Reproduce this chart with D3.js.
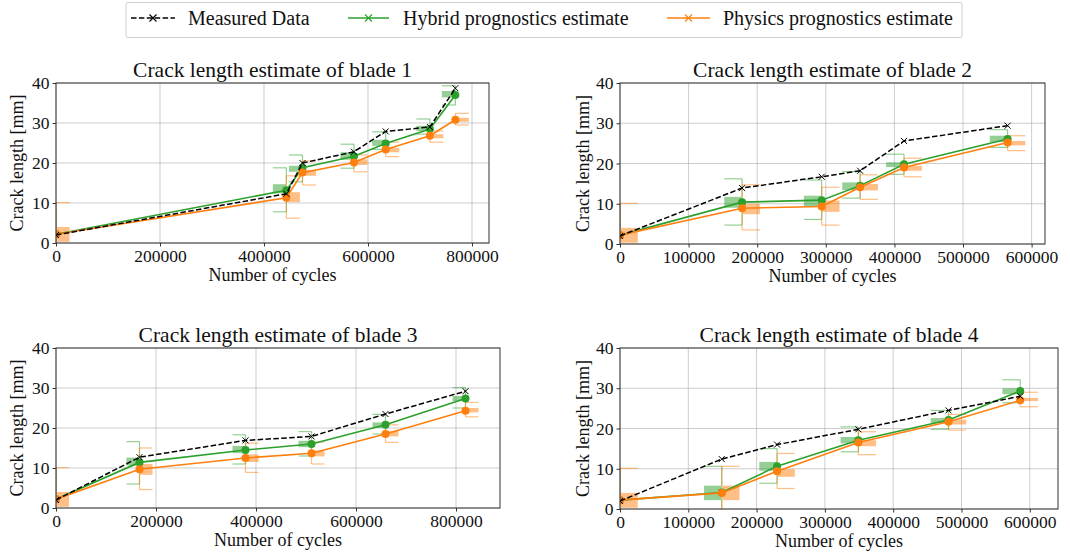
<!DOCTYPE html>
<html>
<head>
<meta charset="utf-8">
<script src="https://cdn.jsdelivr.net/npm/d3@7/dist/d3.min.js"></script>
<style>
  html, body { margin: 0; padding: 0; background: #fff; }
  svg { display: block; }
</style>
</head>
<body>
<svg id="chart" width="1070" height="555"></svg>
<script>
// ---- data: cycles, measured crack length and prognostics estimates per blade ----
// boxes are [q1, q3, whiskerLow, whiskerHigh] in mm
const blade1Cycles   = [0, 443000, 474000, 573000, 634000, 719000, 768000];
const blade1Measured = [2.0, 12.3, 20.0, 22.8, 27.9, 29.0, 38.7];
const blade1Hybrid   = [2.2, 13.2, 18.8, 21.7, 24.9, 28.5, 37.0];
const blade1Physics  = [2.2, 11.3, 17.6, 20.1, 23.4, 26.8, 30.8];
const blade1HybridBox  = [[0.3, 4.0, -3, 10.1], [12.4, 14.7, 7.8, 18.8], [17.8, 19.3, 15.3, 22.0], [20.8, 22.7, 18.7, 24.7], [24.3, 25.8, 23.4, 27.8], [28.0, 29.3, 27.2, 31.0], [36.4, 38.0, 34.5, 39.3]];
const blade1PhysicsBox = [[0.3, 4.0, -3, 10.1], [10.2, 12.7, 6.2, 16.8], [16.8, 18.3, 14.5, 20.5], [19.5, 20.9, 17.8, 22.0], [22.7, 23.8, 21.6, 25.2], [26.2, 27.2, 25.2, 28.0], [30.3, 31.3, 29.5, 32.4]];

const blade2Cycles   = [0, 178000, 294000, 350000, 414000, 565000];
const blade2Measured = [2.0, 13.9, 16.7, 18.2, 25.6, 29.4];
const blade2Hybrid   = [2.2, 10.4, 10.9, 14.5, 19.8, 26.1];
const blade2Physics  = [2.2, 8.9, 9.3, 14.1, 19.0, 25.2];
const blade2HybridBox  = [[0.3, 4.0, -3, 10.1], [9.0, 11.7, 4.7, 16.2], [9.3, 12.0, 6.1, 15.9], [13.4, 15.3, 11.4, 18.0], [19.1, 20.3, 17.3, 22.3], [25.3, 26.9, 24.0, 28.4]];
const blade2PhysicsBox = [[0.3, 4.0, -3, 10.1], [7.4, 10.0, 3.5, 14.7], [8.0, 10.8, 4.7, 14.1], [13.3, 14.9, 11.1, 17.2], [18.2, 19.4, 16.7, 21.3], [24.5, 25.6, 23.2, 26.9]];

const blade3Cycles   = [0, 167000, 379000, 511000, 659000, 819000];
const blade3Measured = [2.0, 12.7, 16.9, 17.9, 23.5, 29.2];
const blade3Hybrid   = [2.2, 11.4, 14.5, 16.0, 20.8, 27.4];
const blade3Physics  = [2.2, 9.7, 12.5, 13.7, 18.5, 24.3];
const blade3HybridBox  = [[0.3, 4.0, -3, 10.1], [10.6, 12.6, 6.0, 16.6], [13.7, 15.5, 11.0, 18.3], [15.2, 16.8, 13.0, 19.1], [20.0, 21.4, 18.5, 23.4], [26.7, 28.0, 25.0, 30.1]];
const blade3PhysicsBox = [[0.3, 4.0, -3, 10.1], [8.3, 11.0, 4.6, 15.0], [11.5, 13.4, 8.9, 16.2], [12.9, 14.4, 11.0, 16.5], [17.9, 19.3, 16.4, 20.8], [23.9, 25.0, 22.8, 26.4]];

const blade4Cycles   = [0, 149000, 230000, 349000, 481000, 586000];
const blade4Measured = [2.0, 12.4, 16.0, 19.8, 24.5, 28.0];
const blade4Hybrid   = [2.2, 4.1, 10.6, 17.1, 22.1, 29.3];
const blade4Physics  = [2.2, 4.0, 9.4, 16.5, 21.7, 27.0];
const blade4HybridBox  = [[0.3, 4.0, -3, 10.1], [2.2, 5.8, -3, 10.6], [9.5, 11.7, 6.4, 15.0], [16.3, 17.9, 14.2, 20.4], [21.3, 22.6, 19.8, 24.5], [28.5, 30.0, 26.4, 32.1]];
const blade4PhysicsBox = [[0.3, 4.0, -3, 10.1], [2.2, 5.8, -3, 10.6], [8.0, 9.9, 5.1, 13.8], [15.6, 17.1, 13.5, 19.2], [21.0, 22.2, 19.6, 23.5], [26.8, 27.6, 25.4, 29.0]];

const xTicksWide   = [0, 200000, 400000, 600000, 800000];
const xTicksNarrow = [0, 100000, 200000, 300000, 400000, 500000, 600000];
const yTicks       = [0, 10, 20, 30, 40];
const xLimits      = [832700, 619500, 888000, 641300];

const titles = ["Crack length estimate of blade 1", "Crack length estimate of blade 2",
                "Crack length estimate of blade 3", "Crack length estimate of blade 4"];
const legendLabels = ["Measured Data", "Hybrid prognostics estimate", "Physics prognostics estimate"];

// ---- styling ----
const FONT = "'Liberation Serif', 'Times New Roman', serif";
const GREEN = "#2ca02c", ORANGE = "#ff7f0e", BLACK = "#000";
const BOX_HALF_WIDTH = 26000; // box width in cycles, drawn on one side of each inspection

const panels = [
  { title: titles[0], cycles: blade1Cycles, measured: blade1Measured, hybrid: blade1Hybrid, physics: blade1Physics,
    hBox: blade1HybridBox, pBox: blade1PhysicsBox, xMax: xLimits[0], xTicks: xTicksWide,
    frame: { left: 56, right: 489, top: 83, bottom: 243 }, ylabelX: 17 },
  { title: titles[1], cycles: blade2Cycles, measured: blade2Measured, hybrid: blade2Hybrid, physics: blade2Physics,
    hBox: blade2HybridBox, pBox: blade2PhysicsBox, xMax: xLimits[1], xTicks: xTicksNarrow,
    frame: { left: 620, right: 1045, top: 83, bottom: 244 }, ylabelX: 583 },
  { title: titles[2], cycles: blade3Cycles, measured: blade3Measured, hybrid: blade3Hybrid, physics: blade3Physics,
    hBox: blade3HybridBox, pBox: blade3PhysicsBox, xMax: xLimits[2], xTicks: xTicksWide,
    frame: { left: 56, right: 500, top: 348, bottom: 508 }, ylabelX: 17 },
  { title: titles[3], cycles: blade4Cycles, measured: blade4Measured, hybrid: blade4Hybrid, physics: blade4Physics,
    hBox: blade4HybridBox, pBox: blade4PhysicsBox, xMax: xLimits[3], xTicks: xTicksNarrow,
    frame: { left: 620, right: 1058, top: 348, bottom: 509 }, ylabelX: 583 }
];

const svg = d3.select("#chart");
const defs = svg.append("defs");

function crossPath(s) {
  return `M${-s},${-s}L${s},${s}M${-s},${s}L${s},${-s}`;
}

panels.forEach((p, i) => {
  const f = p.frame;
  const x = d3.scaleLinear().domain([0, p.xMax]).range([f.left, f.right]);
  const y = d3.scaleLinear().domain([0, 40]).range([f.bottom, f.top]);

  const clipId = "clip" + i;
  defs.append("clipPath").attr("id", clipId)
    .append("rect").attr("x", f.left).attr("y", f.top)
    .attr("width", f.right - f.left).attr("height", f.bottom - f.top);

  const g = svg.append("g");

  // grid
  const grid = g.append("g").attr("stroke", "#b0b0b0").attr("stroke-opacity", 0.7).attr("stroke-width", 0.9);
  grid.selectAll(".gx").data(p.xTicks).join("line")
    .attr("x1", d => x(d)).attr("x2", d => x(d)).attr("y1", f.top).attr("y2", f.bottom);
  grid.selectAll(".gy").data(yTicks).join("line")
    .attr("x1", f.left).attr("x2", f.right).attr("y1", d => y(d)).attr("y2", d => y(d));

  const plot = g.append("g").attr("clip-path", `url(#${clipId})`);

  // box glyphs: hybrid on the left side, physics on the right side of each inspection
  function drawBoxes(boxes, color, side) {
    const bg = plot.append("g");
    boxes.forEach((b, k) => {
      const cx = p.cycles[k];
      const x0 = side < 0 ? cx - BOX_HALF_WIDTH : cx;
      const x1 = side < 0 ? cx : cx + BOX_HALF_WIDTH;
      const [q1, q3, lo, hi] = b;
      bg.append("rect")
        .attr("x", x(x0)).attr("width", x(x1) - x(x0))
        .attr("y", y(q3)).attr("height", y(q1) - y(q3))
        .attr("fill", color).attr("fill-opacity", 0.5);
      const wg = bg.append("g").attr("stroke", color).attr("stroke-opacity", 0.5).attr("stroke-width", 1.2);
      wg.append("line").attr("x1", x(cx)).attr("x2", x(cx)).attr("y1", y(lo)).attr("y2", y(q1));
      wg.append("line").attr("x1", x(cx)).attr("x2", x(cx)).attr("y1", y(q3)).attr("y2", y(hi));
      wg.append("line").attr("x1", x(x0)).attr("x2", x(x1)).attr("y1", y(lo)).attr("y2", y(lo));
      wg.append("line").attr("x1", x(x0)).attr("x2", x(x1)).attr("y1", y(hi)).attr("y2", y(hi));
    });
  }
  drawBoxes(p.hBox, GREEN, -1);
  drawBoxes(p.pBox, ORANGE, 1);

  const line = d3.line().x(d => x(d[0])).y(d => y(d[1]));

  function drawEstimate(values, color) {
    const pts = p.cycles.map((c, k) => [c, values[k]]);
    plot.append("path").datum(pts).attr("d", line)
      .attr("fill", "none").attr("stroke", color).attr("stroke-width", 1.6);
    plot.append("g").selectAll("circle").data(pts).join("circle")
      .attr("cx", d => x(d[0])).attr("cy", d => y(d[1])).attr("r", 4)
      .attr("fill", color);
  }
  drawEstimate(p.hybrid, GREEN);
  drawEstimate(p.physics, ORANGE);

  const mpts = p.cycles.map((c, k) => [c, p.measured[k]]);
  plot.append("path").datum(mpts).attr("d", line)
    .attr("fill", "none").attr("stroke", BLACK).attr("stroke-width", 1.5)
    .attr("stroke-dasharray", "5.5,2.4");
  plot.append("g").selectAll("path").data(mpts).join("path")
    .attr("transform", d => `translate(${x(d[0])},${y(d[1])})`)
    .attr("d", crossPath(3)).attr("stroke", BLACK).attr("stroke-width", 1).attr("fill", "none");

  // frame
  g.append("rect").attr("x", f.left).attr("y", f.top)
    .attr("width", f.right - f.left).attr("height", f.bottom - f.top)
    .attr("fill", "none").attr("stroke", "#333").attr("stroke-width", 1);

  // axes
  const xAxis = g.append("g").attr("transform", `translate(0,${f.bottom})`)
    .call(d3.axisBottom(x).tickValues(p.xTicks).tickFormat(d3.format("d")).tickSize(3.5).tickPadding(3.5));
  const yAxis = g.append("g").attr("transform", `translate(${f.left},0)`)
    .call(d3.axisLeft(y).tickValues(yTicks).tickFormat(d3.format("d")).tickSize(3.5).tickPadding(3));
  [xAxis, yAxis].forEach(a => {
    a.select(".domain").remove();
    a.selectAll(".tick line").attr("stroke", "#333");
    a.selectAll(".tick text").attr("fill", "#111").style("font-family", FONT).style("font-size", "17.5px");
  });

  // titles and labels
  g.append("text").attr("x", (f.left + f.right) / 2).attr("y", f.top - 6)
    .attr("text-anchor", "middle").style("font-family", FONT).style("font-size", "21.5px")
    .attr("fill", "#111").text(p.title);
  g.append("text").attr("x", (f.left + f.right) / 2).attr("y", f.bottom + 38)
    .attr("text-anchor", "middle").style("font-family", FONT).style("font-size", "18px")
    .attr("fill", "#111").text("Number of cycles");
  g.append("text")
    .attr("transform", `translate(${p.ylabelX},${(f.top + f.bottom) / 2}) rotate(-90)`)
    .attr("text-anchor", "middle").attr("dominant-baseline", "central")
    .style("font-family", FONT).style("font-size", "18px")
    .attr("fill", "#111").text("Crack length [mm]");
});

// ---- legend ----
const legend = svg.append("g");
legend.append("rect").attr("x", 126).attr("y", 2.5).attr("width", 836).attr("height", 35)
  .attr("rx", 2).attr("fill", "#fff").attr("stroke", "#d0d0d0").attr("stroke-width", 1);

const legendItems = [
  { label: legendLabels[0], color: BLACK, dash: "5.5,2.4", x0: 131, x1: 175, tx: 188 },
  { label: legendLabels[1], color: GREEN, dash: null, x0: 348, x1: 389, tx: 403 },
  { label: legendLabels[2], color: ORANGE, dash: null, x0: 667, x1: 710, tx: 723 }
];
const ly = 18;
legendItems.forEach(it => {
  legend.append("line").attr("x1", it.x0).attr("x2", it.x1).attr("y1", ly).attr("y2", ly)
    .attr("stroke", it.color).attr("stroke-width", 1.6)
    .attr("stroke-dasharray", it.dash);
  legend.append("path").attr("transform", `translate(${(it.x0 + it.x1) / 2},${ly})`)
    .attr("d", crossPath(3.5)).attr("stroke", it.color).attr("stroke-width", 1.1).attr("fill", "none");
  legend.append("text").attr("x", it.tx).attr("y", ly).attr("dominant-baseline", "central")
    .style("font-family", FONT).style("font-size", "20px").attr("fill", "#111").text(it.label);
});
</script>
</body>
</html>
